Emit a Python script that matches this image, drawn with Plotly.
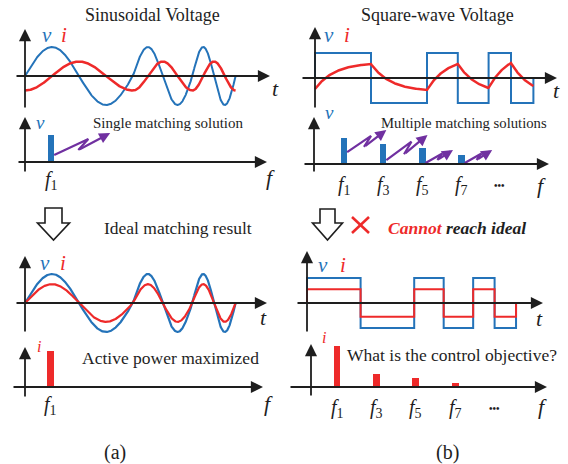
import numpy as np
import plotly.graph_objects as go

W, H = 568, 464

# ---------------- data ----------------
sine_cycle_ms = [20, 11, 8]            # durations of successive voltage cycles
v_peak = 1.0
i_peak_lagging = 0.5                   # current amplitude before matching (lags 90 deg)
i_peak_ideal = 0.65                    # current amplitude after ideal matching (in phase)

square_half_ms = [10, 10, 5.5, 5.5, 4, 4]      # square-wave half-cycle durations
square_v_levels = [1, -1, 1, -1, 1, -1]
square_i_edges = [-0.44, 0.56, -0.48, 0.56, -0.40, 0.60, -0.32]  # current at switching instants
rl_tau_ms = 3.5
square_i_ideal = 0.55

harm_orders = [1, 3, 5, 7]
harm_labels = ["<i>f</i><sub>1</sub>", "<i>f</i><sub>3</sub>", "<i>f</i><sub>5</sub>", "<i>f</i><sub>7</sub>"]
v_sine_spec = [1.0]
i_sine_spec = [1.0]
v_square_spec = [1.0, 0.77, 0.62, 0.35]
i_square_spec = [1.0, 0.32, 0.22, 0.10]

# purple "matching" arrows (start height, rise in x, rise in y) per harmonic
arrow_start_y_sq = [0.46, 0.15, 0.04, 0.04]
arrow_dx_sq = [2.0, 2.1, 1.4, 1.4]
arrow_dy_sq = [0.85, 0.97, 0.5, 0.5]
arrow_start_y_sin = [0.26]
arrow_dx_sin = [2.8]
arrow_dy_sin = [0.81]

BLUE = "#2473B9"
RED = "#EE2A2A"
PURPLE = "#7030A0"
BLACK = "#1E1E1E"
SERIF = "Liberation Serif"

# ---------------- waveforms ----------------
def chirp_phase(cycles, n=1200):
    t_end = sum(cycles)
    t = np.linspace(0, t_end, n)
    edges = np.concatenate([[0], np.cumsum(cycles)])
    ph = np.zeros_like(t)
    for k in range(len(cycles)):
        m = (t >= edges[k]) & (t <= edges[k + 1])
        ph[m] = 2 * np.pi * k + 2 * np.pi * (t[m] - edges[k]) / cycles[k]
    return t, ph

t_sin, ph_sin = chirp_phase(sine_cycle_ms)
v_sin = v_peak * np.sin(ph_sin)
i_sin_lag = -i_peak_lagging * np.cos(ph_sin)
i_sin_ideal = i_peak_ideal * np.sin(ph_sin)

def square_steps(halfs, levels, scale=1.0):
    xs, ys = [0.0], [0.0]
    t0 = 0.0
    for L, lv in zip(halfs, levels):
        xs += [t0, t0 + L]
        ys += [lv * scale, lv * scale]
        t0 += L
    xs.append(t0)
    ys.append(0.0)
    return xs, ys

t_sq, v_sq = square_steps(square_half_ms, square_v_levels)
t_sq_i, i_sq_ideal = square_steps(square_half_ms, square_v_levels, square_i_ideal)

# RL-type current response between switching instants
t_rl, i_rl = [], []
t0 = 0.0
for k, L in enumerate(square_half_ms):
    a, b = square_i_edges[k], square_i_edges[k + 1]
    e = np.exp(-L / rl_tau_ms)
    Vinf = (b - a * e) / (1 - e)
    s = np.linspace(0, L, 80)
    t_rl += list(t0 + s)
    i_rl += list(Vinf + (a - Vinf) * np.exp(-s / rl_tau_ms))
    t0 += L

# ---------------- layout helpers ----------------
panels = [
    dict(px=(5, 290), py=(20, 118), x0=25, sx=5.4, y0=76, sy=29),     # 1 sine wave
    dict(px=(290, 566), py=(20, 118), x0=315, sx=5.6, y0=78, sy=25),  # 2 square wave
    dict(px=(5, 290), py=(112, 196), x0=31, sx=20, y0=162, sy=27),    # 3 sine spectrum
    dict(px=(290, 566), py=(112, 196), x0=324.4, sx=19.6, y0=164, sy=26),  # 4 square spectrum
    dict(px=(5, 290), py=(248, 340), x0=25, sx=5.4, y0=303, sy=29),   # 5 ideal sine wave
    dict(px=(290, 566), py=(245, 340), x0=307, sx=5.36, y0=303, sy=25),  # 6 square result
    dict(px=(5, 290), py=(338, 420), x0=30, sx=20, y0=387, sy=36),    # 7 sine current spectrum
    dict(px=(290, 566), py=(338, 420), x0=317.3, sx=19.7, y0=387, sy=41),  # 8 square current spectrum
]

def dxp(p, px):
    return (px - p["x0"]) / p["sx"]

def dyp(p, py):
    return (p["y0"] - py) / p["sy"]

def P(px, py):
    return px / W, 1 - py / H

fig = go.Figure()
layout_axes = {}
for n, p in enumerate(panels, start=1):
    sfx = "" if n == 1 else str(n)
    layout_axes["xaxis" + sfx] = dict(
        domain=[p["px"][0] / W, p["px"][1] / W],
        range=[dxp(p, p["px"][0]), dxp(p, p["px"][1])],
        visible=False, fixedrange=True, anchor="y" + sfx)
    layout_axes["yaxis" + sfx] = dict(
        domain=[1 - p["py"][1] / H, 1 - p["py"][0] / H],
        range=[dyp(p, p["py"][1]), dyp(p, p["py"][0])],
        visible=False, fixedrange=True, anchor="x" + sfx)

def refs(n):
    return ("x", "y") if n == 1 else ("x%d" % n, "y%d" % n)

annotations = []
shapes = []

def axis_arrow(n, x_tail, y_tail, x_tip, y_tip, width=1.8):
    xr, yr = refs(n)
    annotations.append(dict(
        x=x_tip, y=y_tip, ax=x_tail, ay=y_tail, xref=xr, yref=yr, axref=xr, ayref=yr,
        text="", showarrow=True, arrowhead=2, arrowsize=1.35, arrowwidth=width,
        arrowcolor=BLACK, standoff=0, startstandoff=0))

def axes_for(n, h_px, v_px, v_py):
    p = panels[n - 1]
    axis_arrow(n, dxp(p, h_px[0]), 0, dxp(p, h_px[1]), 0)
    axis_arrow(n, dxp(p, v_px), dyp(p, v_py[0]), dxp(p, v_px), dyp(p, v_py[1]))

axes_for(1, (15, 270), 25, (109, 29))
axes_for(2, (301, 557), 315, (109, 27))
axes_for(3, (17, 267), 25, (173, 117))
axes_for(4, (303, 549), 314, (173, 117))
axes_for(5, (15, 267), 25, (333, 256))
axes_for(6, (296, 543), 307, (333, 251))
axes_for(7, (12, 263), 25, (398, 347))
axes_for(8, (289, 547), 311, (397, 344))

def line(n, x, y, color, width=2.0, shape="linear"):
    xr, yr = refs(n)
    fig.add_trace(go.Scatter(x=x, y=y, mode="lines", xaxis=xr, yaxis=yr,
                             line=dict(color=color, width=width, shape=shape),
                             hoverinfo="skip", showlegend=False))

def bars(n, x, y, color, width):
    xr, yr = refs(n)
    fig.add_trace(go.Bar(x=x, y=y, xaxis=xr, yaxis=yr, marker=dict(color=color, line=dict(width=0)),
                         width=width, hoverinfo="skip", showlegend=False))

# waveforms
line(1, t_sin, v_sin, BLUE, 2.0)
line(1, t_sin, i_sin_lag, RED, 2.5)
line(2, t_sq, v_sq, BLUE, 2.0)
line(2, t_rl, i_rl, RED, 2.5)
line(5, t_sin, v_sin, BLUE, 2.2)
line(5, t_sin, i_sin_ideal, RED, 2.2)
line(6, t_sq, v_sq, BLUE, 2.0)
line(6, t_sq_i, i_sq_ideal, RED, 2.0)

# spectra
bars(3, harm_orders[:1], v_sine_spec, BLUE, 0.33)
bars(4, harm_orders, v_square_spec, BLUE, 0.33)
bars(7, harm_orders[:1], i_sine_spec, RED, 0.35)
bars(8, harm_orders, i_square_spec, RED, 0.35)

# purple zigzag arrows
def zigzag(n, orders, y0s, dxs, dys, half_w):
    xr, yr = refs(n)
    for o, y0, ddx, ddy in zip(orders, y0s, dxs, dys):
        sx, sy = o + half_w, y0
        p1 = (sx + 0.61 * ddx, sy + 0.73 * ddy)
        p2 = (sx + 0.43 * ddx, sy + 0.23 * ddy)
        line(n, [sx, p1[0], p2[0]], [sy, p1[1], p2[1]], PURPLE, 2.2)
        annotations.append(dict(
            x=sx + ddx, y=sy + ddy, ax=p2[0], ay=p2[1], xref=xr, yref=yr, axref=xr, ayref=yr,
            text="", showarrow=True, arrowhead=2, arrowsize=1.0, arrowwidth=2.2,
            arrowcolor=PURPLE, standoff=0, startstandoff=0))

zigzag(3, harm_orders[:1], arrow_start_y_sin, arrow_dx_sin, arrow_dy_sin, 0.16)
zigzag(4, harm_orders, arrow_start_y_sq, arrow_dx_sq, arrow_dy_sq, 0.16)

# ---------------- text ----------------
def text(px, py, s, size, color=BLACK, xanchor="center"):
    x, y = P(px, py)
    annotations.append(dict(x=x, y=y, xref="paper", yref="paper", text=s, showarrow=False,
                            xanchor=xanchor, yanchor="middle",
                            font=dict(family=SERIF, size=size, color=color)))

text(152, 15, "Sinusoidal Voltage", 18)
text(437, 15, "Square-wave Voltage", 18)

for (vx, ix, yy) in [(47, 64, 35), (329, 347, 35), (45, 63, 263), (323, 343, 265)]:
    text(vx, yy, "<i>v</i>", 21, BLUE)
    text(ix, yy, "<i>i</i>", 21, RED)

for (tx, ty) in [(275, 89), (556, 90), (263, 317), (539, 318)]:
    text(tx, ty, "<i>t</i>", 22)

for (fx, fy) in [(270, 178), (541, 185), (268, 403), (542, 406)]:
    text(fx, fy, "<i>f</i>", 22)

text(40, 122, "<i>v</i>", 19, BLUE)
text(329, 113, "<i>v</i>", 19, BLUE)
text(39, 346, "<i>i</i>", 16, RED)
text(324, 337, "<i>i</i>", 16, RED)

# harmonic labels placed at the bar positions
def harm_text(n, orders, labels, py):
    xr, _ = refs(n)
    for o, lab in zip(orders, labels):
        annotations.append(dict(x=o, y=1 - py / H, xref=xr, yref="paper", text=lab, showarrow=False,
                                xanchor="center", yanchor="middle",
                                font=dict(family=SERIF, size=20, color=BLACK)))

harm_text(3, harm_orders[:1], harm_labels[:1], 180)
harm_text(4, harm_orders, harm_labels, 185)
harm_text(7, harm_orders[:1], harm_labels[:1], 405)
harm_text(8, harm_orders, harm_labels, 408)

text(499, 185, "<b>•••</b>", 10)
text(494, 408, "<b>•••</b>", 10)

text(168, 123, "Single matching solution", 15)
text(464, 123, "Multiple matching solutions", 14.7)
text(178, 228, "Ideal matching result", 17.5)
text(170, 358, "Active power maximized", 17.5)
text(452, 355, "What is the control objective?", 17.5)
text(457, 228, "<b><i><span style='color:" + RED + "'>Cannot</span> reach ideal</i></b>", 17.5)
text(115, 452, "(a)", 20)
text(447, 452, "(b)", 20)

# ---------------- block arrows and cross ----------------
def block_arrow(cx, top, shoulder, tip, shaft_hw, head_hw):
    pts = [(cx - shaft_hw, top), (cx + shaft_hw, top), (cx + shaft_hw, shoulder),
           (cx + head_hw, shoulder), (cx, tip), (cx - head_hw, shoulder), (cx - shaft_hw, shoulder)]
    path = "M " + " L ".join("%.5f,%.5f" % P(a, b) for a, b in pts) + " Z"
    shapes.append(dict(type="path", xref="paper", yref="paper", path=path,
                       line=dict(color=BLACK, width=1.6), fillcolor="white"))

block_arrow(53.5, 208, 223, 240, 8.5, 16)
block_arrow(327.5, 209, 223, 240, 7.5, 15)

for (a, b, c, d) in [(352, 217, 369, 233), (352, 233, 369, 217)]:
    x1, y1 = P(a, b)
    x2, y2 = P(c, d)
    shapes.append(dict(type="line", xref="paper", yref="paper", x0=x1, y0=y1, x1=x2, y1=y2,
                       line=dict(color=RED, width=2.6)))

fig.update_layout(
    width=W, height=H, margin=dict(l=0, r=0, t=0, b=0),
    paper_bgcolor="white", plot_bgcolor="rgba(0,0,0,0)",
    showlegend=False, bargap=0, annotations=annotations, shapes=shapes,
    **layout_axes)

fig.write_html("out.html", config={"displayModeBar": False})
